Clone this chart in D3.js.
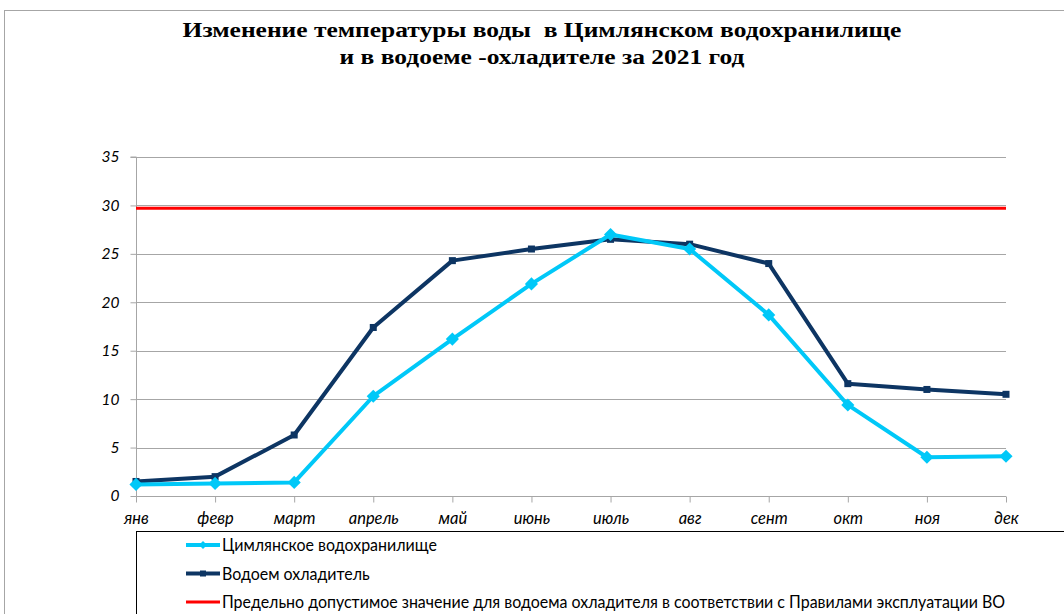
<!DOCTYPE html>
<html><head><meta charset="utf-8">
<script src="https://cdn.jsdelivr.net/npm/d3@7"></script>
<style>body{margin:0;background:#fff}svg{display:block}</style>
</head><body>
<svg id="c" width="1064" height="614"></svg>
<script>
const months = ["янв","февр","март","апрель","май","июнь","июль","авг","сент","окт","ноя","дек"];
const tsimlyansk = [1.2,1.3,1.4,10.3,16.2,21.9,27.0,25.5,18.7,9.4,4.0,4.1];
const cooler = [1.5,2.0,6.3,17.4,24.3,25.5,26.5,26.0,24.0,11.6,11.0,10.5];
const limitValue = 29.7;
const yTicks = [0,5,10,15,20,25,30,35];
const seriesNames = ["Цимлянское водохранилище","Водоем охладитель","Предельно допустимое значение для водоема охладителя в соответствии с Правилами эксплуатации ВО"];
const titleLines = ["Изменение температуры воды  в Цимлянском водохранилище","и в водоеме -охладителе за 2021 год"];

const svg = d3.select("#c");
const L=136, R=1006, T=157, B=496;
const x = d3.scalePoint().domain(months).range([L,R]);
const y = d3.scaleLinear().domain([0,35]).range([B,T]);

// outer border
svg.append("rect").attr("x",4.5).attr("y",10.5).attr("width",1080).attr("height",620)
  .attr("fill","none").attr("stroke","#a6a6a6").attr("stroke-width",1);

// title
svg.append("g").selectAll("text").data(titleLines).join("text")
  .attr("transform",(d,i)=>`translate(542,${37+i*27}) scale(1.18,1)`).attr("text-anchor","middle")
  .attr("font-family","Liberation Serif").attr("font-weight","bold").attr("font-size",21.6)
  .attr("fill","#000").style("white-space","pre").text(d=>d);

// gridlines
svg.append("g").selectAll("line").data(yTicks.filter(d=>d>0)).join("line")
  .attr("x1",L).attr("x2",R).attr("y1",d=>Math.round(y(d))+0.5).attr("y2",d=>Math.round(y(d))+0.5)
  .attr("stroke","#a6a6a6").attr("stroke-width",1);

// y axis
const ya = svg.append("g").attr("transform",`translate(${L+0.5},0)`)
  .call(d3.axisLeft(y).tickValues(yTicks).tickSize(6).tickPadding(11));
ya.select(".domain").attr("stroke","#a6a6a6").attr("d",`M-6,${y(35)}H0V${B}`);
ya.selectAll(".tick line").attr("stroke","#a6a6a6");
ya.selectAll(".tick text").attr("font-family","Lato").attr("font-style","italic").attr("font-size",15.5).attr("fill","#000");

// x axis
const xa = svg.append("g").attr("transform",`translate(0,${B+0.5})`)
  .call(d3.axisBottom(x).tickSize(6).tickPadding(10));
xa.select(".domain").attr("stroke","#a6a6a6").attr("d",`M${L},0H${R}`);
xa.selectAll(".tick line").attr("stroke","#a6a6a6");
xa.selectAll(".tick text").attr("font-family","Lato").attr("font-style","italic").attr("font-size",16.5).attr("fill","#000");

// limit line
svg.append("line").attr("x1",L).attr("x2",R).attr("y1",y(limitValue)).attr("y2",y(limitValue))
  .attr("stroke","#ff0000").attr("stroke-width",3);

const line = d3.line().x((d,i)=>x(months[i])).y(d=>y(d));
const cyan="#00c8f8", navy="#0d3563";
svg.append("path").datum(cooler).attr("d",line).attr("fill","none").attr("stroke",navy).attr("stroke-width",4).attr("stroke-linejoin","round");
svg.append("g").selectAll("rect").data(cooler).join("rect")
  .attr("x",(d,i)=>x(months[i])-3.5).attr("y",d=>y(d)-3.5).attr("width",7).attr("height",7).attr("fill",navy);

svg.append("path").datum(tsimlyansk).attr("d",line).attr("fill","none").attr("stroke",cyan).attr("stroke-width",4).attr("stroke-linejoin","round");
const diamond = d3.symbol().type(d3.symbolDiamond2).size(110);
svg.append("g").selectAll("path").data(tsimlyansk).join("path")
  .attr("transform",(d,i)=>`translate(${x(months[i])},${y(d)})`).attr("d",diamond).attr("fill",cyan);

// legend
svg.append("rect").attr("x",136.5).attr("y",531.5).attr("width",940).attr("height",100)
  .attr("fill","#fff").attr("stroke","#000").attr("stroke-width",1);
const lg = svg.append("g");
const colors=[cyan,navy,"#ff0000"];
seriesNames.forEach((n,i)=>{
  const yy = 545+i*28.5;
  lg.append("line").attr("x1",186).attr("x2",220).attr("y1",yy).attr("y2",yy).attr("stroke",colors[i]).attr("stroke-width",i==2?3:4);
  if(i==0) lg.append("path").attr("transform",`translate(203,${yy})`).attr("d",d3.symbol().type(d3.symbolDiamond2).size(40)).attr("fill",cyan);
  if(i==1) lg.append("rect").attr("x",200).attr("y",yy-3).attr("width",6).attr("height",6).attr("fill",navy);
  lg.append("text").attr("transform",`translate(222,${yy+6}) scale(0.94,1)`).attr("font-family","Lato").attr("font-size",17).attr("fill","#000").text(n);
});
</script>
</body></html>
